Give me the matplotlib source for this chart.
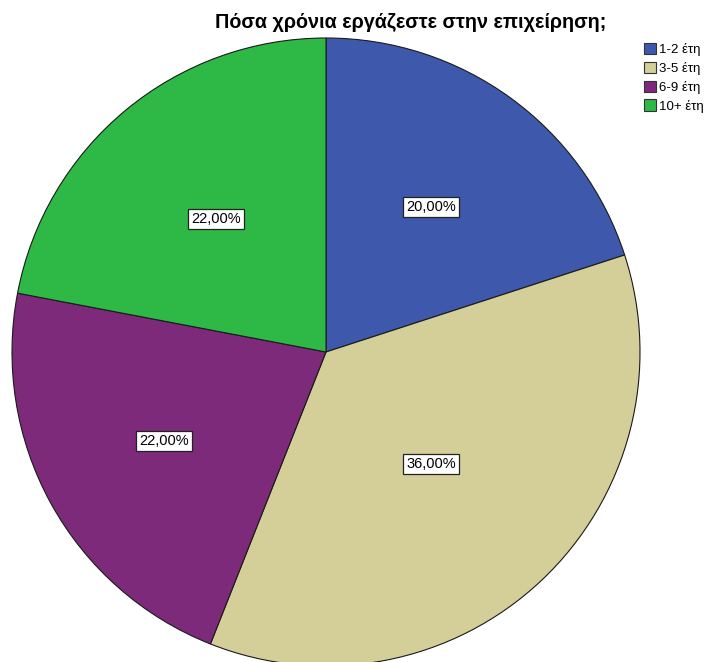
import numpy as np
import matplotlib.pyplot as plt
from matplotlib.patches import Patch

plt.rcParams['font.family'] = ['Liberation Sans', 'DejaVu Sans']

# data
categories = ["1-2 έτη", "3-5 έτη", "6-9 έτη", "10+ έτη"]
percent = [20.0, 36.0, 22.0, 22.0]
colors = ["#3E58AC", "#D4CE99", "#7D2A7A", "#2EB845"]
label_dist = [0.57, 0.49, 0.59, 0.55]

fig = plt.figure(figsize=(7.11, 6.62), dpi=100)
ax = fig.add_axes([0, 0, 1, 1])

wedges, _ = ax.pie(percent, colors=colors, startangle=90, counterclock=False,
                   radius=1.0, wedgeprops=dict(edgecolor="#1a1a1a", linewidth=0.8))

for w, p, d in zip(wedges, percent, label_dist):
    mid = np.deg2rad((w.theta1 + w.theta2) / 2)
    ax.text(d * np.cos(mid), d * np.sin(mid), f"{p:.2f}%".replace(".", ","),
            ha="center", va="center", fontsize=10.5,
            bbox=dict(boxstyle="square,pad=0.22", fc="white", ec="#222222", lw=0.9))

ax.set_xlim(-326 / 314, (711 - 326) / 314)
ax.set_ylim(-310 / 314, 352 / 314)
ax.set_aspect("auto")
ax.axis("off")

fig.text(0.577, 0.966, "Πόσα χρόνια εργάζεστε στην επιχείρηση;", ha="center",
         va="center", fontsize=14.2, fontweight="bold")

handles = [Patch(facecolor=c, edgecolor="#333333", linewidth=0.8) for c in colors]
fig.legend(handles, categories, loc="upper left", bbox_to_anchor=(0.897, 0.945),
           frameon=False, fontsize=9.5, handlelength=0.85, handleheight=0.95,
           handletextpad=0.25, labelspacing=0.42, borderpad=0.0)

fig.savefig("out.png", dpi=100)
